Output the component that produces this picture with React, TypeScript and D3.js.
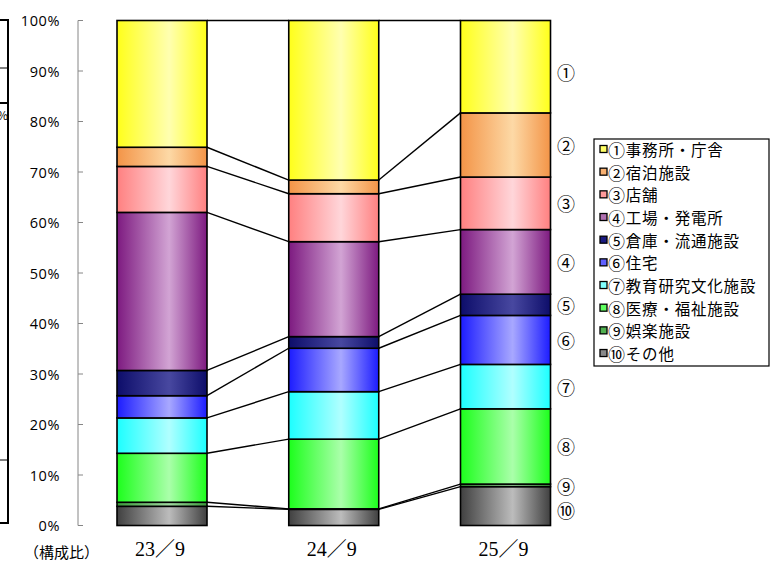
import React from "react";
import * as d3 from "d3";

const categories = ["23／9", "24／9", "25／9"];
const seriesNames = [
  "①事務所・庁舎",
  "②宿泊施設",
  "③店舗",
  "④工場・発電所",
  "⑤倉庫・流通施設",
  "⑥住宅",
  "⑦教育研究文化施設",
  "⑧医療・福祉施設",
  "⑨娯楽施設",
  "⑩その他",
];
const circled = ["①", "②", "③", "④", "⑤", "⑥", "⑦", "⑧", "⑨", "⑩"];
// values in order ①..⑩ (percent)
const values2309 = [25.1, 3.8, 9.1, 31.3, 5.0, 4.4, 7.0, 9.7, 0.8, 3.8];
const values2409 = [31.6, 2.7, 9.5, 18.8, 2.3, 8.6, 9.4, 13.8, 0.1, 3.2];
const values2509 = [18.3, 12.7, 10.4, 12.8, 4.2, 9.7, 8.8, 14.9, 0.5, 7.7];
const yTicks = [0, 10, 20, 30, 40, 50, 60, 70, 80, 90, 100];
// label positions (percent) for the circled numbers on the right
const labelPos = [89.8, 75.4, 63.8, 52.2, 43.7, 36.8, 27.5, 15.7, 7.8, 3.1];

const edgeColors = ["#ffff1a", "#f39447", "#ff8080", "#7d1a80", "#0d0d6a", "#1c1cff", "#1cffff", "#1cff1c", "#3a9a3a", "#404040"];
const centerColors = ["#ffffb0", "#fdd9a6", "#ffd6da", "#d2a4d4", "#4848a0", "#a8a8ff", "#b0ffff", "#aaffaa", "#a0d8a0", "#bcbcbc"];
const legendColors = ["#ffff66", "#f8b070", "#ff9a9a", "#b070b0", "#1a1a80", "#6060ff", "#80ffff", "#60ff60", "#50b050", "#888888"];

const allValues = [values2309, values2409, values2509];

export default function App() {
  const W = 770;
  const H = 562;
  const y = d3.scaleLinear().domain([0, 100]).range([525.5, 20.5]);
  const x = d3.scalePoint<string>().domain(categories).range([162, 505.5]);
  const barW = 90;

  const rows = categories.map((c, i) => {
    const r: any = { cat: c };
    allValues[i].forEach((v, k) => (r["s" + k] = v));
    return r;
  });
  const keys = d3.range(9, -1, -1).map((k) => "s" + k); // ⑩ at bottom
  const stacked = d3.stack<any>().keys(keys)(rows);

  const connectors: { x1: number; y1: number; x2: number; y2: number; key: string }[] = [];
  stacked.forEach((layer) => {
    for (let i = 0; i < categories.length - 1; i++) {
      connectors.push({
        key: layer.key + "-" + i,
        x1: (x(categories[i]) as number) + barW / 2,
        y1: y(layer[i][1]),
        x2: (x(categories[i + 1]) as number) - barW / 2,
        y2: y(layer[i + 1][1]),
      });
    }
  });

  const legendX = 594;
  const legendY = 139;
  const legendStep = 22.67;

  return (
    <svg
      width={W}
      height={H}
      style={{ position: "absolute", left: 0, top: 0, background: "#fff" }}
      fontFamily="'Noto Sans CJK JP', 'Noto Sans', sans-serif"
    >
      <defs>
        {edgeColors.map((e, k) => (
          <linearGradient key={k} id={"g" + k} x1="0" x2="1" y1="0" y2="0">
            <stop offset="0" stopColor={e} />
            <stop offset="0.58" stopColor={centerColors[k]} />
            <stop offset="1" stopColor={e} />
          </linearGradient>
        ))}
      </defs>
      <rect width={W} height={H} fill="#fff" />

      {/* partial table at left edge */}
      <g stroke="#000" fill="none">
        <line x1={-2} x2={8} y1={20} y2={20} strokeWidth={2} />
        <line x1={-2} x2={8} y1={68} y2={68} strokeWidth={1} />
        <line x1={-2} x2={8} y1={103} y2={103} strokeWidth={2} />
        <line x1={-2} x2={8} y1={460} y2={460} strokeWidth={1} />
        <line x1={-2} x2={8} y1={523} y2={523} strokeWidth={2} />
        <line x1={8} x2={8} y1={19} y2={524} strokeWidth={2} />
      </g>
      <text x={-3} y={120} fontSize={12} fill="#000">%</text>

      {/* y axis */}
      <line x1={78} x2={78} y1={y(0)} y2={y(100)} stroke="#868686" strokeWidth={1} />
      {yTicks.map((t) => (
        <g key={t}>
          <line x1={78} x2={83} y1={y(t)} y2={y(t)} stroke="#868686" strokeWidth={1} />
          <text
            x={60}
            y={y(t)}
            textAnchor="end"
            dominantBaseline="central"
            fontSize={14.5}
            letterSpacing={0.6}
            fontFamily="'Open Sans', 'Noto Sans', sans-serif"
            fill="#000"
          >
            {t + "%"}
          </text>
        </g>
      ))}
      <text x={99} y={551} textAnchor="end" dominantBaseline="central" fontSize={15} fill="#000">
        （構成比）
      </text>

      {/* connectors */}
      <g stroke="#000" strokeWidth={1.4}>
        {connectors.map((c) => (
          <line key={c.key} x1={c.x1} y1={c.y1} x2={c.x2} y2={c.y2} />
        ))}
      </g>

      {/* bars */}
      {stacked.map((layer) => {
        const k = +layer.key.slice(1);
        return (
          <g key={layer.key}>
            {layer.map((d, i) => (
              <rect
                key={i}
                x={(x(categories[i]) as number) - barW / 2}
                y={y(d[1])}
                width={barW}
                height={Math.max(0, y(d[0]) - y(d[1]))}
                fill={`url(#g${k})`}
                stroke="#000"
                strokeWidth={1.6}
              />
            ))}
          </g>
        );
      })}

      {/* x labels */}
      {categories.map((c) => (
        <text
          key={c}
          x={(x(c) as number) - 2}
          y={549}
          textAnchor="middle"
          dominantBaseline="central"
          fontSize={20}
          fontFamily="'Liberation Serif', 'Noto Sans CJK JP', serif"
          fill="#000"
        >
          {c}
        </text>
      ))}

      {/* circled labels right of last bar */}
      {circled.map((c, k) => (
        <text
          key={c}
          x={566}
          y={y(labelPos[k])}
          textAnchor="middle"
          dominantBaseline="central"
          fontSize={18}
          fontFamily="'Noto Sans CJK JP', sans-serif"
          fill="#000"
        >
          {c}
        </text>
      ))}

      {/* legend */}
      <rect x={legendX} y={legendY} width={175} height={227} fill="#fff" stroke="#000" strokeWidth={1.2} />
      {seriesNames.map((n, k) => {
        const cy = legendY + 10 + k * legendStep;
        return (
          <g key={n}>
            <rect x={600} y={cy - 3.5} width={7} height={7} fill={legendColors[k]} stroke="#000" strokeWidth={1.3} />
            <text x={608} y={cy} dominantBaseline="central" fontSize={15.5} letterSpacing={0.8} fill="#000">
              <tspan fontSize={17}>{n.slice(0, 1)}</tspan>
              <tspan>{n.slice(1)}</tspan>
            </text>
          </g>
        );
      })}
    </svg>
  );
}
